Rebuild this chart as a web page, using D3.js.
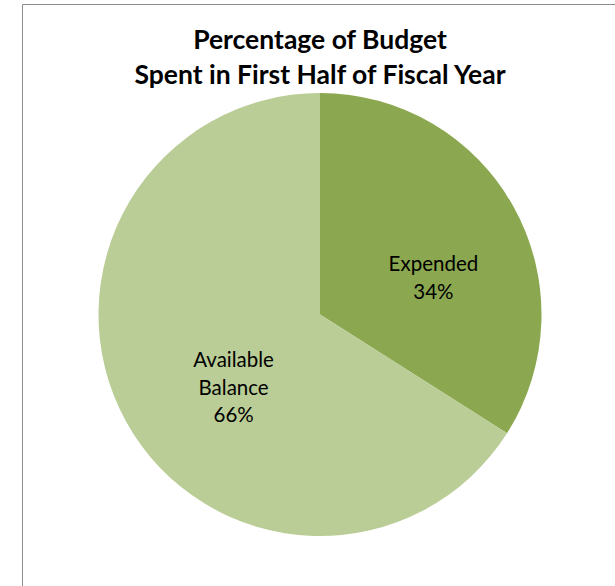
<!DOCTYPE html>
<html>
<head>
<meta charset="utf-8">
<script src="https://cdn.jsdelivr.net/npm/d3@7"></script>
<style>
  body { margin: 0; background: #fff; }
  svg { display: block; }
</style>
</head>
<body>
<div id="chart"></div>
<script>
var categories = ["Expended", "Available Balance"];
var values = [34, 66];
var titleLines = ["Percentage of Budget", "Spent in First Half of Fiscal Year"];

var width = 615;
var height = 586;

var cx = 320;
var cy = 314.5;
var radius = 221.5;

var colour = d3.scaleOrdinal()
    .domain(categories)
    .range(["#8ba74f", "#bacd96"]);

var svg = d3.select("#chart")
    .append("svg")
    .attr("width", width)
    .attr("height", height);

// chart frame (cut off at right and bottom)
svg.append("path")
    .attr("d", "M22.5," + height + "V4.5H" + width)
    .attr("fill", "none")
    .attr("stroke", "#8c8c8c")
    .attr("stroke-width", 1);

svg.append("text")
    .attr("x", cx)
    .attr("text-anchor", "middle")
    .style("font-family", "Lato, 'Open Sans', sans-serif")
    .style("font-weight", "bold")
    .style("font-size", "26.5px")
    .attr("fill", "#000")
    .selectAll("tspan")
    .data(titleLines)
    .enter()
    .append("tspan")
    .attr("x", cx)
    .attr("y", function(d, i) { return 48.5 + i * 35.5; })
    .text(function(d) { return d; });

var pie = d3.pie()
    .sort(null)
    .value(function(d) { return d.value; });

var arc = d3.arc()
    .innerRadius(0)
    .outerRadius(radius);

var labelArc = d3.arc()
    .innerRadius(114)
    .outerRadius(114);

var data = categories.map(function(c, i) {
    return { key: c, value: values[i] };
});

var g = svg.append("g")
    .attr("transform", "translate(" + cx + "," + cy + ")");

g.selectAll("path.slice")
    .data(pie(data))
    .enter()
    .append("path")
    .attr("class", "slice")
    .attr("d", arc)
    .attr("fill", function(d) { return colour(d.data.key); });

var total = d3.sum(values);
var lineHeight = 27.5;

g.selectAll("text.label")
    .data(pie(data))
    .enter()
    .append("text")
    .attr("class", "label")
    .attr("text-anchor", "middle")
    .style("font-family", "Lato, 'Open Sans', sans-serif")
    .style("font-size", "20.5px")
    .attr("fill", "#000")
    .each(function(d) {
        var c = labelArc.centroid(d);
        var x = c[0] + 13.5;
        var y = c[1] + 18;
        var lines = d.data.key.split(" ");
        lines.push(Math.round(d.data.value / total * 100) + "%");
        var top = y - (lines.length - 1) * lineHeight / 2 + 7.4;
        d3.select(this)
            .selectAll("tspan")
            .data(lines)
            .enter()
            .append("tspan")
            .attr("x", x)
            .attr("y", function(t, i) { return top + i * lineHeight; })
            .text(function(t) { return t; });
    });
</script>
</body>
</html>
